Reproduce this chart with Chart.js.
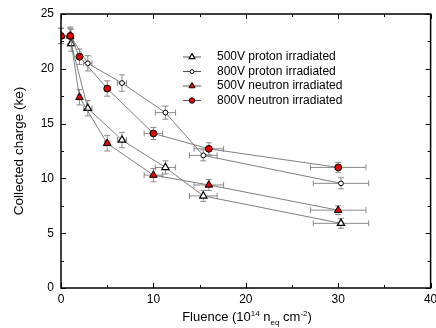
<!DOCTYPE html>
<html>
<head>
<meta charset="utf-8">
<script src="https://cdn.jsdelivr.net/npm/chart.js@4.4.0/dist/chart.umd.min.js"></script>
<style>
    body { margin: 0; background: #fff; }
    #wrap { position: relative; width: 436px; height: 328px; }
    #xTitle {
        position: absolute; left: 0; width: 494px; top: 309px;
        text-align: center; font: 13px "Liberation Sans", Arial, sans-serif; color: #000;
        white-space: nowrap;
    }
    #xTitle sup, #xTitle sub { font-size: 8px; }
    #xTitle sup { vertical-align: 5px; }
    #xTitle sub { vertical-align: -4px; }
</style>
</head>
<body>
<div id="wrap">
    <canvas id="chart" width="436" height="328"></canvas>
    <div id="xTitle">Fluence (10<sup>14</sup> n<sub>eq</sub> cm<sup>-2</sup>)</div>
</div>
<script>
// Proton irradiated samples
const protonFluence = [1.1, 2.9, 6.6, 11.3, 15.4, 30.3];
const protonFluenceErr = [0.2, 0.45, 0.5, 1.1, 1.5, 3.0];
const proton500Charge = [22.3, 16.4, 13.5, 11.0, 8.4, 5.9];
const proton500Err = [0.7, 0.7, 0.7, 0.6, 0.5, 0.45];
const proton800Charge = [22.9, 20.5, 18.7, 16.0, 12.1, 9.55];
const proton800Err = [0.7, 0.7, 0.75, 0.6, 0.5, 0.5];

// Neutron irradiated samples
const neutronFluence = [0, 1, 2, 5, 10, 16, 30];
const neutronFluenceErr = [0, 0.1, 0.2, 0.3, 1.0, 1.6, 3.0];
const neutron500Charge = [23.0, 23.0, 17.4, 13.2, 10.3, 9.4, 7.1];
const neutron500Err = [0.7, 0.7, 0.7, 0.7, 0.6, 0.5, 0.4];
const neutron800Charge = [23.0, 23.0, 21.1, 18.2, 14.1, 12.7, 11.0];
const neutron800Err = [0.7, 0.8, 0.7, 0.7, 0.55, 0.55, 0.45];

const seriesLabels = ['500V proton irradiated', '800V proton irradiated', '500V neutron irradiated', '800V neutron irradiated'];

const FONT = '"Liberation Sans", Arial, sans-serif';

function points(xs, ys, xe, ye) {
    return xs.map((x, i) => ({ x: x, y: ys[i], xErr: xe[i], yErr: ye[i] }));
}

const datasets = [
    {
        label: seriesLabels[0],
        data: points(protonFluence, proton500Charge, protonFluenceErr, proton500Err),
        pointStyle: 'triangle', pointRadius: 4.2,
        backgroundColor: '#ffffff', pointBorderColor: '#000', pointBorderWidth: 1.2,
        order: 3
    },
    {
        label: seriesLabels[1],
        data: points(protonFluence, proton800Charge, protonFluenceErr, proton800Err),
        pointStyle: 'circle', pointRadius: 2.4,
        backgroundColor: '#ffffff', pointBorderColor: '#000', pointBorderWidth: 1,
        order: 2
    },
    {
        label: seriesLabels[2],
        data: points(neutronFluence, neutron500Charge, neutronFluenceErr, neutron500Err),
        pointStyle: 'triangle', pointRadius: 4.4,
        backgroundColor: '#e60000', pointBorderColor: '#000', pointBorderWidth: 1,
        order: 1
    },
    {
        label: seriesLabels[3],
        data: points(neutronFluence, neutron800Charge, neutronFluenceErr, neutron800Err),
        pointStyle: 'circle', pointRadius: 3.4,
        backgroundColor: '#e60000', pointBorderColor: '#000', pointBorderWidth: 1,
        order: 0
    }
];
datasets.forEach(ds => {
    ds.showLine = true;
    ds.borderColor = '#707070';
    ds.borderWidth = 0.9;
    ds.pointBackgroundColor = ds.backgroundColor;
});

// error bars under the markers
const errorBars = {
    id: 'errorBars',
    beforeDatasetsDraw(chart) {
        const ctx = chart.ctx;
        const xs = chart.scales.x, ys = chart.scales.y;
        const cap = 3;
        ctx.save();
        ctx.strokeStyle = '#8c8c8c';
        ctx.lineWidth = 1;
        chart.data.datasets.forEach(ds => {
            ds.data.forEach(p => {
                const px = xs.getPixelForValue(p.x);
                const py = ys.getPixelForValue(p.y);
                ctx.beginPath();
                if (p.yErr > 0) {
                    const y1 = ys.getPixelForValue(p.y - p.yErr);
                    const y2 = ys.getPixelForValue(p.y + p.yErr);
                    ctx.moveTo(px, y1); ctx.lineTo(px, y2);
                    ctx.moveTo(px - cap, y1); ctx.lineTo(px + cap, y1);
                    ctx.moveTo(px - cap, y2); ctx.lineTo(px + cap, y2);
                }
                if (p.xErr > 0) {
                    const x1 = xs.getPixelForValue(p.x - p.xErr);
                    const x2 = xs.getPixelForValue(p.x + p.xErr);
                    ctx.moveTo(x1, py); ctx.lineTo(x2, py);
                    ctx.moveTo(x1, py - cap); ctx.lineTo(x1, py + cap);
                    ctx.moveTo(x2, py - cap); ctx.lineTo(x2, py + cap);
                }
                ctx.stroke();
            });
        });
        ctx.restore();
    }
};

// box frame with inward ticks on all sides
const frame = {
    id: 'frame',
    afterDraw(chart) {
        const ctx = chart.ctx;
        const a = chart.chartArea;
        const xs = chart.scales.x, ys = chart.scales.y;
        ctx.save();
        ctx.strokeStyle = '#000';
        ctx.lineWidth = 1.5;
        ctx.strokeRect(a.left, a.top, a.right - a.left, a.bottom - a.top);
        ctx.lineWidth = 1;
        ctx.beginPath();
        for (let v = 0; v <= 40; v += 5) {
            const len = v % 10 === 0 ? 5 : 3;
            const px = Math.round(xs.getPixelForValue(v)) + 0.5;
            ctx.moveTo(px, a.bottom); ctx.lineTo(px, a.bottom - len);
            ctx.moveTo(px, a.top); ctx.lineTo(px, a.top + len);
        }
        for (let v = 0; v <= 25; v += 2.5) {
            const len = v % 5 === 0 ? 5 : 3;
            const py = Math.round(ys.getPixelForValue(v)) + 0.5;
            ctx.moveTo(a.left, py); ctx.lineTo(a.left + len, py);
            ctx.moveTo(a.right, py); ctx.lineTo(a.right - len, py);
        }
        ctx.stroke();
        ctx.restore();
    }
};

// legend inside the plot: line through marker, then text
const insideLegend = {
    id: 'insideLegend',
    afterDraw(chart) {
        const ctx = chart.ctx;
        const x0 = 183, x1 = 201, mx = 192, tx = 217;
        const rows = [57, 71.5, 86, 100.5];
        ctx.save();
        chart.data.datasets.forEach((ds, i) => {
            const y = rows[i];
            ctx.strokeStyle = '#555';
            ctx.lineWidth = 1;
            ctx.beginPath();
            ctx.moveTo(x0, y); ctx.lineTo(x1, y);
            ctx.stroke();
            ctx.fillStyle = ds.pointBackgroundColor;
            ctx.strokeStyle = '#000';
            ctx.lineWidth = ds.pointBorderWidth;
            Chart.helpers.drawPoint(ctx, {
                pointStyle: ds.pointStyle,
                radius: ds.pointRadius * 0.8,
                borderWidth: ds.pointBorderWidth,
                rotation: 0
            }, mx, y);
            ctx.fillStyle = '#000';
            ctx.font = '12px ' + FONT;
            ctx.textBaseline = 'middle';
            ctx.fillText(ds.label, tx, y);
        });
        ctx.restore();
    }
};

new Chart(document.getElementById('chart'), {
    type: 'scatter',
    data: { datasets: datasets },
    plugins: [errorBars, frame, insideLegend],
    options: {
        responsive: false,
        animation: false,
        devicePixelRatio: 1,
        layout: { padding: { left: 0, top: 14, right: 4, bottom: 0 } },
        plugins: {
            legend: { display: false },
            tooltip: { enabled: false }
        },
        scales: {
            x: {
                type: 'linear', min: 0, max: 40,
                grid: { display: false, drawTicks: false },
                border: { display: false },
                ticks: { stepSize: 10, color: '#000', padding: 4, maxRotation: 0, font: { family: FONT, size: 12 } },
                afterFit(scale) {
                    scale.height = 40;
                    scale.paddingLeft = 0;
                    scale.paddingRight = 0;
                }
            },
            y: {
                type: 'linear', min: 0, max: 25,
                grid: { display: false, drawTicks: false },
                border: { display: false },
                ticks: { stepSize: 5, color: '#000', padding: 7, font: { family: FONT, size: 12 } },
                title: {
                    display: true, text: 'Collected charge (ke)', color: '#000',
                    font: { family: FONT, size: 13.5 }, padding: { top: 11, bottom: 0 }
                },
                afterFit(scale) {
                    scale.width = 61;
                    scale.paddingTop = 0;
                    scale.paddingBottom = 0;
                }
            }
        }
    }
});
</script>
</body>
</html>
